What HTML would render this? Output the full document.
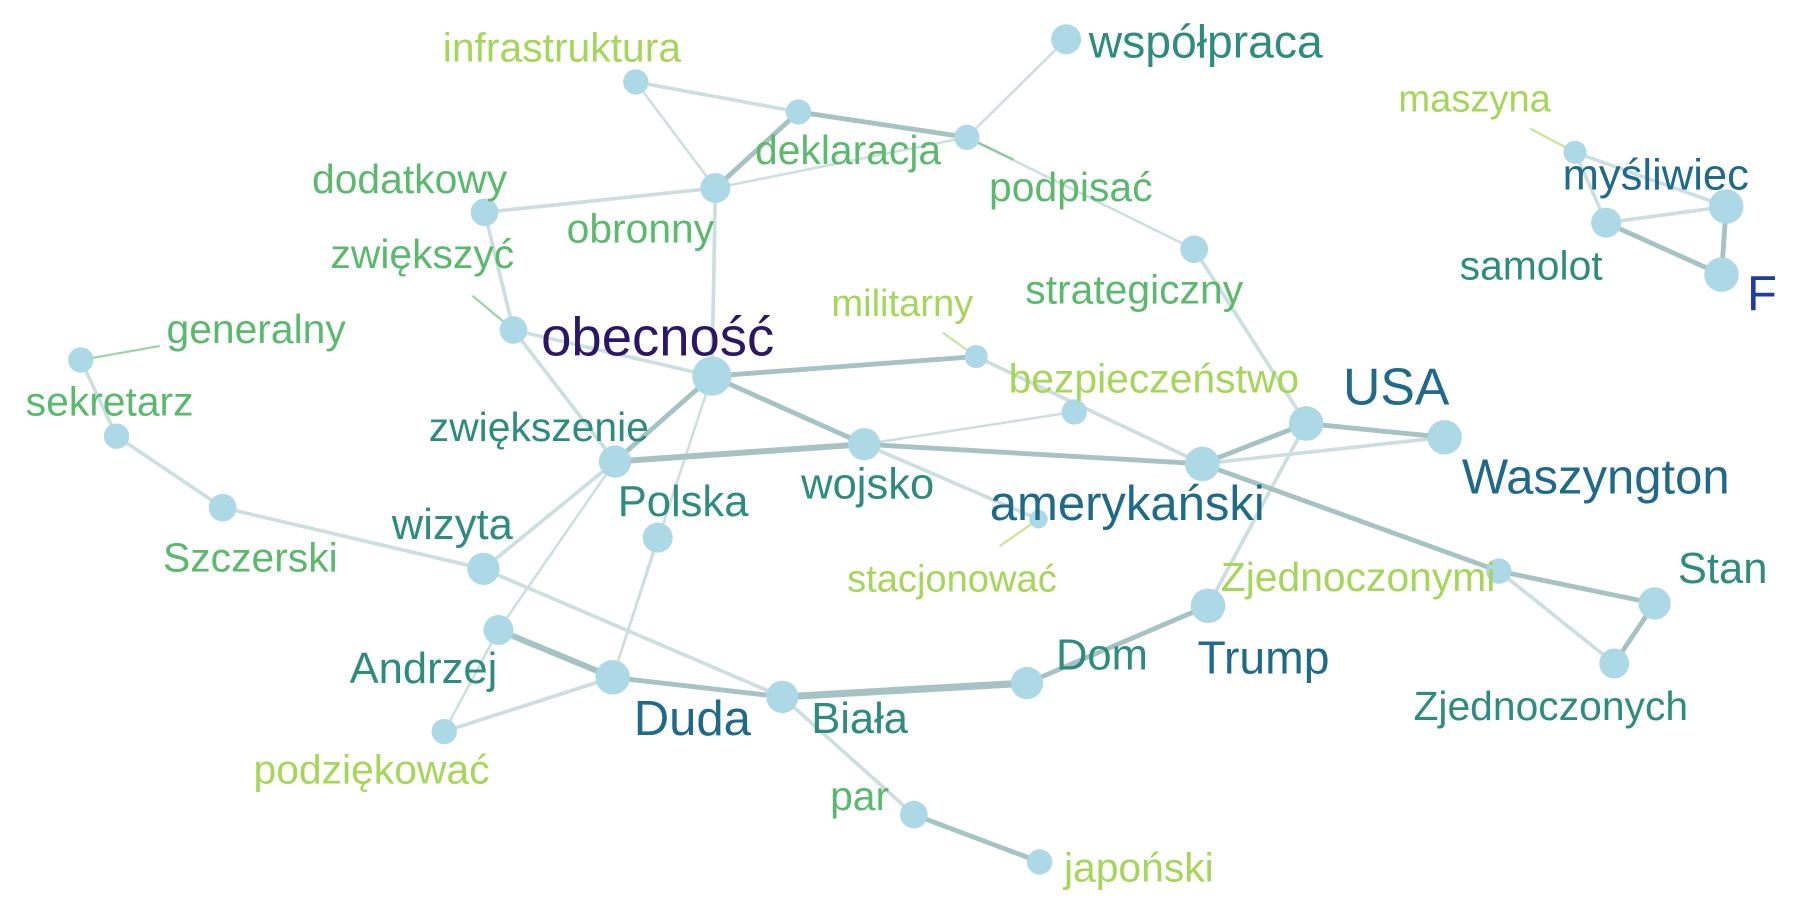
<!DOCTYPE html>
<html><head><meta charset="utf-8"><style>
html,body{margin:0;padding:0;background:#fff;}
svg{display:block;font-family:"Liberation Sans",Arial,sans-serif;}
</style></head><body>
<svg id="chart" width="1800" height="900" viewBox="0 0 1560 780" xmlns="http://www.w3.org/2000/svg">
<g id="edges"></g>
<g id="leaders"></g>
<g id="nodes"></g>
<g id="labels"></g>
</svg>
<script>
const nodeIds = ["infra","n692","n838","wspol","obronny","dodatk","zwiekszyc","obecnosc","generalny","sekretarz","szczerski","militarny","strateg","bezp","usa","wasz","amer","wojsko","zwiekszenie","polska","stacj","wizyta","andrzej","duda","biala","dom","trump","zjedmi","stan","zjedch","podziek","par","japon","n1365","samolot","n1496","f"];
const nodeX = [551,692,838,924,620,420,445,617,70,101,193,846,1035,931,1132,1252,1042,749,533,570,900,419,432,531,678,890,1047,1299,1434,1399,385,792,901,1365,1392,1496,1492];
const nodeY = [71,97,119,34,163,184,286,326,312,378,440,309,216,357,367,379,402,385,400,466,450,493,546,587,604,592,525,495,523,575,634,706,747,132,193,179,238];
const nodeR = [11,11,11,13,13,12,12,17,11,11,12,10,12,11,15,15,15,14,14,13,8,14,13,15,14,14,15,11,14,13,11,12,11,10,13,15,15];
const labelText = ["infrastruktura","deklaracja","podpisać","współpraca","obronny","dodatkowy","zwiększyć","obecność","generalny","sekretarz","Szczerski","militarny","strategiczny","bezpieczeństwo","USA","Waszyngton","amerykański","wojsko","zwiększenie","Polska","stacjonować","wizyta","Andrzej","Duda","Biała","Dom","Trump","Zjednoczonymi","Stan","Zjednoczonych","podziękować","par","japoński","maszyna","samolot","myśliwiec","F"];
const labelX = [487,735,928,1045,555,355,366,570,222,95,217,782,983,1000,1210,1383,977,752,467,592,825,392,367,600,745,955,1095,1177,1493,1344,322,745,987,1278,1327,1435,1527];
const labelY = [41,130,162,36,198,155,220,292,285,348,483,263,251,328,335,414,437,420,370,435,502,455,580,623,623,568,570,500,493,612,667,690,752,86,230,152,255];
const labelColor = ["#a5d65a","#5bb96d","#5bb96d","#2e8c7e","#5bb96d","#5bb96d","#5bb96d","#2b1766","#5bb96d","#5bb96d","#5bb96d","#a5d65a","#5bb96d","#a5d65a","#1f6a88","#1f6a88","#1f6a88","#2e8c7e","#2e8c7e","#2e8c7e","#a5d65a","#2e8c7e","#2e8c7e","#1f6a88","#2e8c7e","#2e8c7e","#1f6a88","#a5d65a","#2e8c7e","#2e8c7e","#a5d65a","#5bb96d","#a5d65a","#a5d65a","#2e8c7e","#1f6a88","#203c9e"];
const labelSize = [30,30,30,34,30,30,30,40,30,30,30,28,30,30,38,36,36,32,30,32,28,32,32,36,32,32,34,30,32,30,30,30,30,28,30,32,36];
const edgeFrom = ["infra","infra","n692","n692","n838","obronny","n838","strateg","obronny","obronny","dodatk","zwiekszyc","zwiekszyc","obecnosc","obecnosc","obecnosc","obecnosc","militarny","wojsko","wojsko","wojsko","wojsko","amer","amer","usa","usa","amer","zjedmi","zjedmi","stan","zwiekszenie","zwiekszenie","polska","wizyta","wizyta","andrzej","andrzej","duda","duda","biala","dom","biala","par","sekretarz","generalny","n1365","n1365","samolot","samolot","n1496"];
const edgeTo = ["n692","obronny","obronny","n838","wspol","n838","strateg","usa","dodatk","obecnosc","zwiekszyc","zwiekszenie","obecnosc","militarny","wojsko","zwiekszenie","duda","amer","bezp","amer","zwiekszenie","stacj","usa","wasz","wasz","trump","zjedmi","stan","zjedch","zjedch","wizyta","andrzej","duda","szczerski","biala","duda","podziek","podziek","biala","dom","trump","par","japon","szczerski","sekretarz","samolot","n1496","n1496","f","f"];
const edgeWeight = [2,1,3,3,1,1,1,2,2,2,2,2,2,3,3,3,1,2,1,3,4,2,3,2,3,2,3,3,2,3,2,1,1,2,2,4,1,2,3,5,3,2,3,2,2,2,2,2,3,3];
const leaderFromLabel = ["podpisać","zwiększyć","generalny","militarny","stacjonować","maszyna"];

const NS="http://www.w3.org/2000/svg";
const FS=1.18;
const idx = id => nodeIds.indexOf(id);
const gE=document.getElementById('edges'), gN=document.getElementById('nodes'), gL=document.getElementById('labels'), gLd=document.getElementById('leaders');
for(let i=0;i<edgeFrom.length;i++){
  const a=idx(edgeFrom[i]), b=idx(edgeTo[i]), w=edgeWeight[i];
  const l=document.createElementNS(NS,'line');
  l.setAttribute('x1',nodeX[a]);l.setAttribute('y1',nodeY[a]);
  l.setAttribute('x2',nodeX[b]);l.setAttribute('y2',nodeY[b]);
  l.setAttribute('stroke', w>=3 ? '#a6c2c2' : '#cddede');
  l.setAttribute('stroke-width', 1.2+w*1.0);
  l.setAttribute('stroke-linecap','round');
  
  
  gE.appendChild(l);
}
for(const t of leaderFromLabel){
  const i=labelText.indexOf(t);
  const l=document.createElementNS(NS,'line');
  const dx=nodeX[i]-labelX[i], dy=nodeY[i]-labelY[i];
  l.setAttribute('x1',labelX[i]+dx*0.55);l.setAttribute('y1',labelY[i]+dy*0.55);
  l.setAttribute('x2',nodeX[i]);l.setAttribute('y2',nodeY[i]);
  l.setAttribute('stroke',labelColor[i]);l.setAttribute('stroke-opacity','0.6');l.setAttribute('stroke-width','2');
  
  
  gLd.appendChild(l);
}
for(let i=0;i<nodeIds.length;i++){
  const c=document.createElementNS(NS,'circle');
  c.setAttribute('cx',nodeX[i]);c.setAttribute('cy',nodeY[i]);c.setAttribute('r',nodeR[i]);
  c.setAttribute('fill','#add8e6');
  
  
  gN.appendChild(c);
  const t=document.createElementNS(NS,'text');
  t.setAttribute('x',labelX[i]);t.setAttribute('y',labelY[i]);
  t.setAttribute('text-anchor','middle');t.setAttribute('dominant-baseline','central');
  t.setAttribute('fill',labelColor[i]);t.setAttribute('font-size',labelSize[i]*FS);
  t.textContent=labelText[i];
  
  
  gL.appendChild(t);
}
</script>
</body></html>
